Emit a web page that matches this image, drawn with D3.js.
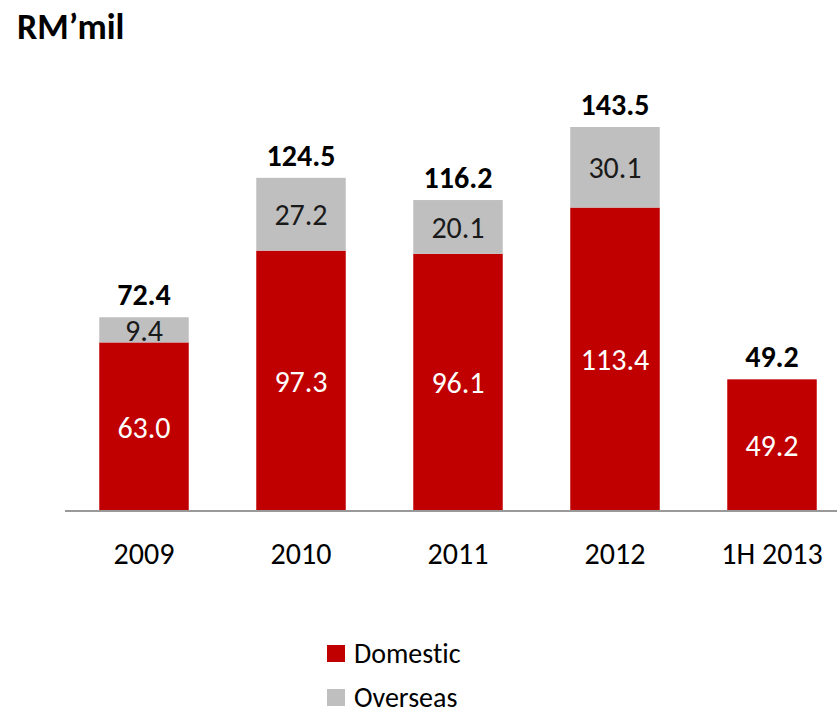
<!DOCTYPE html>
<html>
<head>
<meta charset="utf-8">
<script src="https://cdn.jsdelivr.net/npm/d3@7"></script>
<style>
  body { margin: 0; background: #fff; }
  text { font-family: Carlito, Calibri, Lato, sans-serif; font-variant-ligatures: none; }
</style>
</head>
<body>
<div id="chart"></div>
<script>
// data
var categories = ["2009", "2010", "2011", "2012", "1H 2013"];
var domestic = [63.0, 97.3, 96.1, 113.4, 49.2];
var overseas = [9.4, 27.2, 20.1, 30.1, 0];
var totals = [72.4, 124.5, 116.2, 143.5, 49.2];
var seriesNames = ["Domestic", "Overseas"];
var colors = ["#c00000", "#bfbfbf"];

var width = 837, height = 715;
var baseY = 511;

var svg = d3.select("#chart").append("svg")
    .attr("width", width)
    .attr("height", height);

// x scale: one band per period
var x = d3.scaleBand()
    .domain(categories)
    .range([65.5, 850.5])
    .paddingInner(0.43)
    .paddingOuter(0.215);

// y scale
var y = d3.scaleLinear().domain([0, 150]).range([baseY, baseY - 150 * 2.676]);

// title
svg.append("text")
    .attr("x", 17).attr("y", 39)
    .attr("font-size", 36).attr("font-weight", "bold")
    .text("RM\u2019mil");

// stacked bars
var rows = categories.map(function(c, i) {
    return {cat: c, Domestic: domestic[i], Overseas: overseas[i], total: totals[i]};
});
var stack = d3.stack().keys(seriesNames)(rows);

stack.forEach(function(layer, k) {
    var g = svg.append("g");
    g.selectAll("rect").data(layer).enter().append("rect")
        .attr("x", function(d) { return x(d.data.cat); })
        .attr("width", x.bandwidth())
        .attr("y", function(d) { return y(d[1]); })
        .attr("height", function(d) { return y(d[0]) - y(d[1]); })
        .attr("fill", colors[k]);

    // segment labels
    g.selectAll("text").data(layer.filter(function(d) { return d[1] - d[0] > 0; })).enter().append("text")
        .attr("x", function(d) { return x(d.data.cat) + x.bandwidth() / 2; })
        .attr("y", function(d) { return (y(d[0]) + y(d[1])) / 2; })
        .attr("dy", "0.36em")
        .attr("text-anchor", "middle")
        .attr("font-size", 30)
        .attr("fill", k === 0 ? "#fff" : "#1a1a1a")
        .text(function(d) { return (d[1] - d[0]).toFixed(1); });
});

// totals above bars
svg.append("g").selectAll("text").data(rows).enter().append("text")
    .attr("x", function(d) { return x(d.cat) + x.bandwidth() / 2; })
    .attr("y", function(d) { return y(d.total) - 12; })
    .attr("text-anchor", "middle")
    .attr("font-size", 30).attr("font-weight", "bold")
    .text(function(d) { return d.total.toFixed(1); });

// x axis
var xAxis = svg.append("g")
    .attr("transform", "translate(0," + baseY + ")")
    .call(d3.axisBottom(x).tickSize(0).tickPadding(0));
xAxis.select(".domain").remove();
xAxis.append("line")
    .attr("x1", 65).attr("x2", 837)
    .attr("stroke", "#999").attr("stroke-width", 2);
xAxis.selectAll(".tick text")
    .attr("y", 53)
    .attr("dy", 0)
    .attr("font-size", 30)
    .attr("fill", "#000")
    .style("font-family", "Carlito, Calibri, Lato, sans-serif");

// legend
var legend = svg.append("g").attr("transform", "translate(327,645)");
seriesNames.forEach(function(name, i) {
    var row = legend.append("g").attr("transform", "translate(0," + (i * 44) + ")");
    row.append("rect").attr("width", 18).attr("height", 17).attr("fill", colors[i]);
    row.append("text")
        .attr("x", 27).attr("y", 18)
        .attr("font-size", 28)
        .text(name);
});
</script>
</body>
</html>
